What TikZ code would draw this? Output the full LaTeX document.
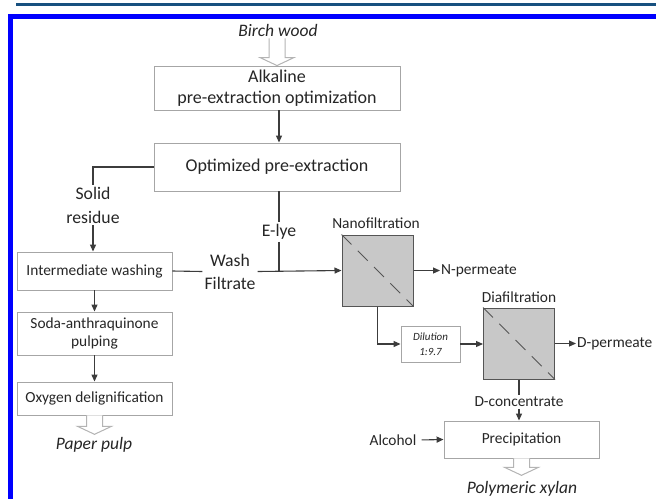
\documentclass[tikz,border=0pt]{standalone}
\usepackage{fontspec}
\setmainfont{Carlito}
\usetikzlibrary{calc,arrows.meta}
\definecolor{frameblue}{HTML}{0000FF}
\definecolor{darkline}{HTML}{17507F}
\definecolor{boxgray}{HTML}{A6A6A6}
\definecolor{arrgray}{HTML}{3C3C3C}
\definecolor{filtfill}{HTML}{C8C8C8}
\definecolor{filtborder}{HTML}{555555}
\definecolor{hgray}{HTML}{B4B4B4}
\definecolor{txt}{HTML}{262626}
\newcommand\harrow[2]{\draw[hollow] ($(#1)+(-8,0)$) -- ($(#2)+(-8,-8)$) -- ($(#2)+(-17,-8)$) -- (#2) -- ($(#2)+(17,-8)$) -- ($(#2)+(8,-8)$) -- ($(#1)+(8,0)$);}
\begin{document}
\begin{tikzpicture}[x=1pt,y=-1pt,
  every node/.style={text=txt},
  box/.style={draw=boxgray, line width=0.9pt, fill=white, inner sep=0pt, align=center},
  bigtxt/.style={font=\fontsize{18}{21}\selectfont},
  smalltxt/.style={font=\fontsize{15.4}{18}\selectfont},
  itlbl/.style={font=\fontsize{17.5}{20}\selectfont\itshape, inner sep=2pt},
  lbl/.style={inner sep=2pt, align=center},
  filt/.style={draw=filtborder, fill=filtfill, line width=1pt, minimum width=71pt, minimum height=71pt, inner sep=0pt},
  conn/.style={draw=arrgray, line width=1.1pt},
  arr/.style={conn, -{Triangle[length=7pt,width=6pt]}},
  hollow/.style={draw=hgray, fill=white, line width=1pt, line join=miter},
  diag/.style={draw=filtborder, line width=1pt, dash pattern=on 14pt off 9pt}
]
\useasboundingbox (0,0) rectangle (656,499);
\fill[white] (0,0) rectangle (656,499);
% frame
\fill[darkline] (16,3) rectangle (656,5.5);
\fill[frameblue] (8,14) rectangle (656,19);
\fill[frameblue] (8,14) rectangle (13,499);

% top chain
\node[itlbl] (birch) at (278,30) {Birch wood};
\node[box, bigtxt, minimum width=246pt, minimum height=44pt] (b1) at (277,88)
  {Alkaline\\pre-extraction optimization};
\node[box, bigtxt, minimum width=246pt, minimum height=48pt] (b2) at (277,167)
  {Optimized pre-extraction};
\coordinate (bwtop) at (b1.north |- birch.south);
\harrow{bwtop}{b1.north}
\draw[arr] (b1.south -| 279,0) -- (b2.north -| 279,0);

% left chain
\node[lbl, bigtxt, font=\fontsize{17.7}{24}\selectfont] (solid) at (93,205) {Solid\\residue};
\node[box, smalltxt, minimum width=155pt, minimum height=38pt] (wash) at (94.5,271) {Intermediate washing};
\node[box, smalltxt, minimum width=155pt, minimum height=43pt] (soda) at (94.5,333.5) {Soda-anthraquinone\\pulping};
\node[box, smalltxt, minimum width=155pt, minimum height=33pt] (oxy) at (94.5,398.5) {Oxygen delignification};
\node[itlbl] (pulp) at (94,445) {Paper pulp};
\draw[conn] (b2.west) -| (solid.north);
\draw[arr] (solid.south) -- (solid.south |- wash.north);
\draw[arr] (wash.south) -- (soda.north);
\draw[arr] (soda.south) -- (oxy.south |- oxy.north);
\coordinate (pulptip) at ($(oxy.south |- pulp.north)+(0,-1)$);
\harrow{oxy.south}{pulptip}

% middle
\node[lbl, font=\fontsize{17.7}{23}\selectfont] (wf) at (230,271.5) {Wash\\Filtrate};
\node[lbl, font=\fontsize{17.7}{21}\selectfont] (elye) at (279,232) {E-lye};
\node[filt] (nano) at (377.5,270.5) {};
\node[lbl, smalltxt] (nanol) at (376,223) {Nanofiltration};
\node[lbl, smalltxt, anchor=west, inner sep=1pt] (nperm) at (440,270.5) {N-permeate};
\draw[conn] (wash.east) -- (wf.west);
\draw[conn] (b2.south -| elye.north) -- (elye.north);
\draw[conn] (elye.south) -- (elye.south |- nano.west);
\draw[arr] (wf.east) -- (nano.west);
\draw[diag] (nano.north west) -- (nano.south east);
\draw[arr] (nano.east) -- (nperm.west);

% dilution & diafiltration
\node[box, font=\fontsize{11}{15}\selectfont\itshape, minimum width=59pt, minimum height=36pt] (dil) at (430.5,344) {Dilution\\1:9.7};
\node[filt] (dia) at (519,343.5) {};
\node[lbl, smalltxt] (dial) at (519,297) {Diafiltration};
\node[lbl, smalltxt, anchor=west, inner sep=1pt] (dperm) at (576,343.5) {D-permeate};
\draw[arr] (nano.south) |- (dil.west);
\draw[arr] (dil.east) -- (dil.east -| dia.west);
\draw[diag] (dia.north west) -- (dia.south east);
\draw[arr] (dia.east) -- (dperm.west);

% precipitation
\node[lbl, smalltxt] (dconc) at (519,402) {D-concentrate};
\node[box, smalltxt, minimum width=155pt, minimum height=37pt] (prec) at (521.5,439.5) {Precipitation};
\node[lbl, smalltxt] (alc) at (393,440) {Alcohol};
\node[itlbl] (xylan) at (522,489) {Polymeric xylan};
\draw[conn] (dia.south) -- (dconc.north);
\draw[arr] (dconc.south) -- (dconc.south |- prec.north);
\draw[arr, shorten <=3pt] (alc.east) -- (prec.west);
\coordinate (xytip) at ($(prec.south |- xylan.north)+(0,-4)$);
\harrow{prec.south}{xytip}
\end{tikzpicture}
\end{document}
